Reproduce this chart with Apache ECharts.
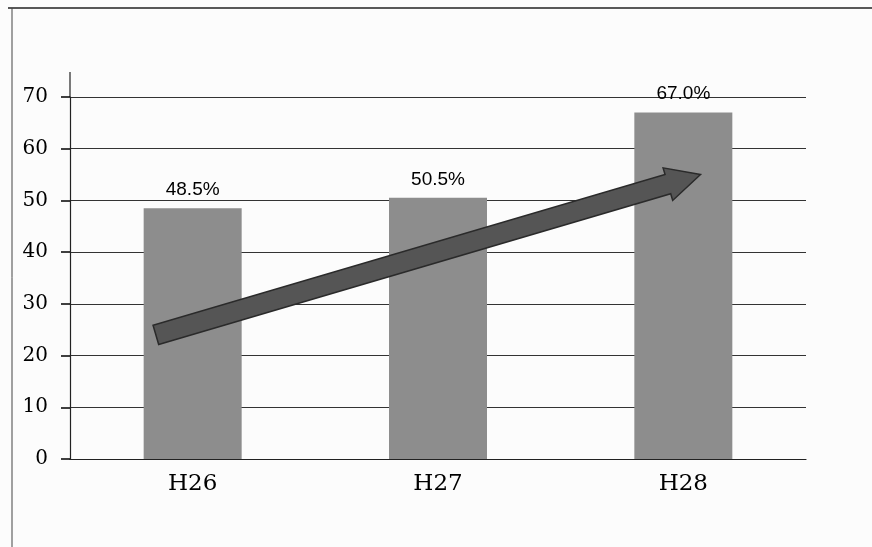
<!DOCTYPE html>
<html>
<head>
<meta charset="utf-8">
<script src="https://cdn.jsdelivr.net/npm/echarts@6/dist/echarts.min.js"></script>
<style>
html, body { margin: 0; padding: 0; background: #fff; }
#main { width: 872px; height: 547px; }
</style>
</head>
<body>
<div id="main"></div>
<script>
// years (Heisei) and rates in %
var categories = ["H26", "H27", "H28"];
var rates = [48.5, 50.5, 67.0];
var yTicks = [0, 10, 20, 30, 40, 50, 60, 70];
// trend arrow, in data space: [category position, value]
var arrowFrom = [-0.15, 24];
var arrowTo = [2.07, 55];

var chart = echarts.init(document.getElementById("main"));
var serif = "'DejaVu Serif', 'Liberation Serif', serif";

chart.setOption({
  backgroundColor: "#fcfcfc",
  animation: false,
  grid: { left: 70, right: 66, top: 97, bottom: 88 },
  graphic: [
    { type: "line", shape: { x1: 8, y1: 8, x2: 872, y2: 8 }, style: { stroke: "#222", lineWidth: 1.5 } },
    { type: "line", shape: { x1: 12, y1: 8, x2: 12, y2: 547 }, style: { stroke: "#444", lineWidth: 1 } },
    { type: "line", shape: { x1: 70, y1: 72, x2: 70, y2: 97 }, style: { stroke: "#222", lineWidth: 1.2 } }
  ],
  xAxis: [
    {
      type: "category",
      data: categories,
      axisLine: { lineStyle: { color: "#222", width: 1.2 } },
      axisTick: { length: 7, lineStyle: { color: "#222" } },
      axisLabel: { color: "#000", fontFamily: serif, fontSize: 23, margin: 14 }
    },
    { type: "value", min: -0.5, max: 2.5, show: false }
  ],
  yAxis: {
    type: "value",
    min: yTicks[0],
    max: yTicks[yTicks.length - 1],
    interval: 10,
    axisLine: { show: true, onZero: false, lineStyle: { color: "#222", width: 1.2 } },
    axisTick: { show: true, inside: false, length: 9, lineStyle: { color: "#000", width: 1.5 } },
    axisLabel: { color: "#000", fontFamily: serif, fontSize: 20, margin: 22 },
    splitLine: { lineStyle: { color: "#333", width: 1.2 } }
  },
  series: [
    {
      type: "bar",
      data: rates,
      barWidth: 98,
      itemStyle: { color: "#8d8d8d" },
      label: {
        show: true,
        position: "top",
        distance: 9,
        formatter: function (p) { return p.value.toFixed(1) + "%"; },
        color: "#000",
        fontFamily: "'Liberation Sans', Arial, sans-serif",
        fontSize: 19
      }
    },
    {
      type: "custom",
      xAxisIndex: 1,
      data: [[arrowFrom[0], arrowFrom[1], arrowTo[0], arrowTo[1]]],
      z: 5,
      renderItem: function (params, api) {
        var a = api.coord([api.value(0), api.value(1)]);
        var b = api.coord([api.value(2), api.value(3)]);
        var dx = b[0] - a[0], dy = b[1] - a[1];
        var len = Math.sqrt(dx * dx + dy * dy);
        var ux = dx / len, uy = dy / len;
        var nx = -uy, ny = ux;
        var w = 10, hw = 17, hl = 34;
        var hx = b[0] - ux * hl, hy = b[1] - uy * hl;
        var pts = [
          [a[0] + nx * w, a[1] + ny * w],
          [hx + nx * w, hy + ny * w],
          [hx + nx * hw, hy + ny * hw],
          [b[0], b[1]],
          [hx - nx * hw, hy - ny * hw],
          [hx - nx * w, hy - ny * w],
          [a[0] - nx * w, a[1] - ny * w]
        ];
        return {
          type: "polygon",
          shape: { points: pts },
          style: { fill: "#555", stroke: "#2a2a2a", lineWidth: 1.5 }
        };
      }
    }
  ]
});
</script>
</body>
</html>
